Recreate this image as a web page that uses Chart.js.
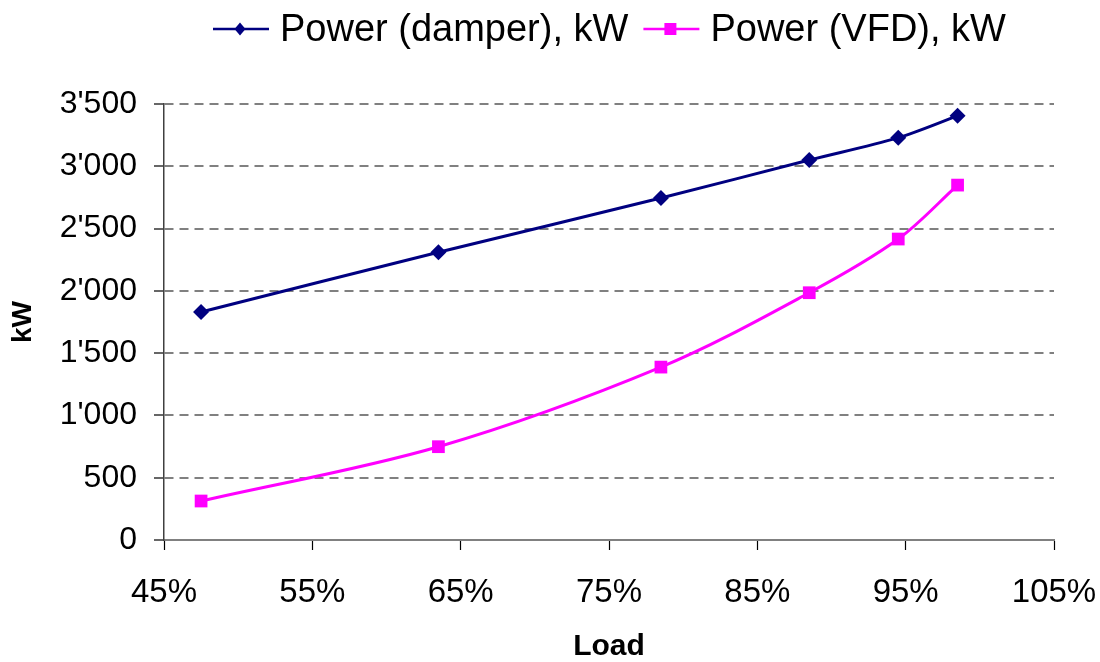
<!DOCTYPE html>
<html>
<head>
<meta charset="utf-8">
<script src="https://cdn.jsdelivr.net/npm/chart.js@4"></script>
<style>
  html, body { margin: 0; padding: 0; background: #ffffff; }
  #wrap { width: 1100px; height: 662px; position: relative; }
</style>
</head>
<body>
<div id="wrap"><canvas id="c" width="1100" height="662"></canvas></div>
<script>
// ---- data ----
const loadPct = [47.5, 63.5, 78.5, 88.5, 94.5, 98.5];
const powerDamper = [1830, 2310, 2745, 3050, 3230, 3405];
const powerVFD = [313, 749, 1388, 1985, 2416, 2849];
const seriesNames = ['Power (damper), kW', 'Power (VFD), kW'];
const xTickValues = [45, 55, 65, 75, 85, 95, 105];
const yTickValues = [0, 500, 1000, 1500, 2000, 2500, 3000, 3500];
const xTitle = 'Load';
const yTitle = 'kW';

const FONT = '"Liberation Sans", Arial, sans-serif';

function fmtThousands(v) {
  if (v >= 1000) {
    const th = Math.floor(v / 1000);
    const rest = String(Math.round(v % 1000)).padStart(3, '0');
    return th + "'" + rest;
  }
  return String(v);
}

const legendPlugin = {
  id: 'customLegend',
  afterDraw(chart) {
    const ctx = chart.ctx;
    ctx.save();
    ctx.font = '38px ' + FONT;
    ctx.textBaseline = 'alphabetic';
    const y = 29;
    let x0 = 213;
    chart.data.datasets.forEach((ds, i) => {
      ctx.strokeStyle = ds.borderColor;
      ctx.lineWidth = 2.5;
      ctx.beginPath();
      ctx.moveTo(x0, y);
      ctx.lineTo(x0 + 56, y);
      ctx.stroke();
      const cx = x0 + 27;
      ctx.fillStyle = ds.backgroundColor;
      ctx.beginPath();
      if (ds.pointStyle === 'rectRot') {
        ctx.moveTo(cx, y - 6.5);
        ctx.lineTo(cx + 5.5, y);
        ctx.lineTo(cx, y + 6.5);
        ctx.lineTo(cx - 5.5, y);
        ctx.closePath();
        ctx.fill();
      } else {
        ctx.rect(cx - 6, y - 6, 12, 12);
        ctx.fill();
      }
      ctx.fillStyle = '#000000';
      const tx = x0 + 67;
      ctx.fillText(ds.label, tx, 41);
      const w = ctx.measureText(ds.label).width;
      x0 = tx + w + 15;
    });
    ctx.restore();
  }
};

const ctx = document.getElementById('c').getContext('2d');
new Chart(ctx, {
  type: 'scatter',
  data: {
    datasets: [
      {
        label: seriesNames[0],
        data: loadPct.map((x, i) => ({ x: x, y: powerDamper[i] })),
        showLine: true,
        borderColor: '#000080',
        backgroundColor: '#000080',
        borderWidth: 3,
        tension: 0.33,
        pointStyle: 'rectRot',
        pointRadius: 8,
        pointBorderWidth: 0,
        pointHoverRadius: 8
      },
      {
        label: seriesNames[1],
        data: loadPct.map((x, i) => ({ x: x, y: powerVFD[i] })),
        showLine: true,
        borderColor: '#FF00FF',
        backgroundColor: '#FF00FF',
        borderWidth: 3,
        tension: 0.33,
        pointStyle: 'rect',
        pointRadius: 9,
        pointBorderWidth: 0,
        pointHoverRadius: 9
      }
    ]
  },
  options: {
    responsive: false,
    animation: false,
    devicePixelRatio: 1,
    layout: { padding: { top: 104, right: 46, bottom: 0, left: 0 } },
    plugins: {
      legend: { display: false },
      tooltip: { enabled: false }
    },
    scales: {
      x: {
        type: 'linear',
        min: 45,
        max: 105,
        afterBuildTicks(scale) { scale.ticks = xTickValues.map(v => ({ value: v })); },
        afterFit(scale) { scale.height = 122; scale.paddingRight = 0; scale.paddingLeft = 0; },
        ticks: {
          callback: v => v + '%',
          font: { family: FONT, size: 33, lineHeight: 1 },
          color: '#000000',
          padding: 26,
          maxRotation: 0,
          autoSkip: false
        },
        grid: {
          drawOnChartArea: false,
          drawTicks: true,
          tickLength: 10,
          tickColor: '#000000',
          tickWidth: 1.2
        },
        border: { display: true, color: '#808080', width: 2 },
        title: {
          display: true,
          text: xTitle,
          font: { family: FONT, size: 30, weight: 'bold', lineHeight: 1 },
          color: '#000000',
          padding: { top: 0, bottom: 0 }
        }
      },
      y: {
        type: 'linear',
        min: 0,
        max: 3500,
        afterBuildTicks(scale) { scale.ticks = yTickValues.map(v => ({ value: v })); },
        afterFit(scale) { scale.width = 164; },
        ticks: {
          callback: v => fmtThousands(v),
          font: { family: FONT, size: 32 },
          color: '#000000',
          padding: 17
        },
        grid: {
          drawOnChartArea: true,
          drawTicks: true,
          tickLength: 10,
          color: '#808080',
          lineWidth: 2,
          tickColor: '#000000',
          tickWidth: 1.2,
          tickBorderDash: []
        },
        border: { display: true, color: '#404040', width: 1.5, dash: [9, 6] },
        title: {
          display: true,
          text: yTitle,
          font: { family: FONT, size: 28, weight: 'bold' },
          color: '#000000',
          padding: { top: 6, bottom: 0 }
        }
      }
    }
  },
  plugins: [legendPlugin]
});
</script>
</body>
</html>
